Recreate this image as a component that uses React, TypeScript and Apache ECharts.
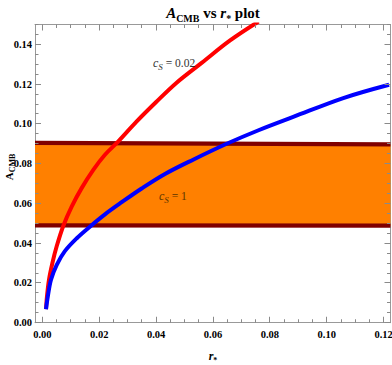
import { useEffect, useRef } from "react";
import * as echarts from "echarts";

const X_MIN = -0.0026;
const X_MAX = 0.1224;
const Y_MIN = 0;
const Y_MAX = 0.15;

const xMajor = [0, 0.02, 0.04, 0.06, 0.08, 0.1, 0.12];
const yMajor = [0, 0.02, 0.04, 0.06, 0.08, 0.1, 0.12, 0.14];
const xTickVals: number[] = [];
for (let k = 0; k <= 24; k++) xTickVals.push(+(k * 0.005).toFixed(3));
const yTickVals: number[] = [];
for (let k = 0; k <= 30; k++) yTickVals.push(+(k * 0.005).toFixed(3));

const redX = [0.00127, 0.0016, 0.0023, 0.0035, 0.005, 0.0074, 0.0103, 0.0138, 0.0179, 0.022, 0.0267, 0.033, 0.04, 0.047, 0.056, 0.066, 0.076];
const redY = [0.0068, 0.0131, 0.0215, 0.0299, 0.0383, 0.0489, 0.0584, 0.0677, 0.0769, 0.0845, 0.0912, 0.101, 0.111, 0.1205, 0.1307, 0.142, 0.1515];

const blueX = [0.00127, 0.0019, 0.003, 0.005, 0.0079, 0.0121, 0.0167, 0.022, 0.0279, 0.0349, 0.0431, 0.053, 0.0648, 0.076, 0.0882, 0.1058, 0.1219];
const blueY = [0.0068, 0.0131, 0.0215, 0.029, 0.036, 0.0425, 0.0483, 0.0545, 0.0606, 0.0675, 0.0748, 0.082, 0.09, 0.0968, 0.1035, 0.113, 0.1197];

const bandX = [X_MIN, X_MAX];
const bandLow = [0.049, 0.0488];
const bandHigh = [0.0905, 0.0897];

const FONT = "Liberation Serif";
const FRAME = "#999999";
const TICK = "#8a8a8a";

function zip(xs: number[], ys: number[]) {
  return xs.map((x, i) => [x, ys[i]]);
}

function isMajor(v: number) {
  return Math.abs(v / 0.02 - Math.round(v / 0.02)) < 1e-6;
}

export default function App() {
  const ref = useRef<HTMLDivElement>(null);
  useEffect(() => {
    document.body.style.margin = "0";
    const chart = echarts.init(ref.current!, null, { renderer: "svg" });
    const labelStyle = { fontFamily: FONT, fontWeight: "bold", fontSize: 10.5, color: "#000" };
    const tickLen = (v: number) => (isMajor(v) ? 6 : 3.5);
    const snap = (p: number) => Math.round(p - 0.5) + 0.5;
    const option: any = {
      animation: false,
      backgroundColor: "#fff",
      grid: { left: 35, right: 1.5, top: 24.5, bottom: 42.3, containLabel: false, outerBoundsMode: "none" },
      xAxis: [
        {
          type: "value", position: "bottom", min: X_MIN, max: X_MAX,
          splitLine: { show: false },
          axisLine: { show: true, onZero: false, lineStyle: { color: FRAME, width: 1 } },
          axisTick: { show: false },
          axisLabel: { ...labelStyle, customValues: xMajor, formatter: (v: number) => v.toFixed(2), margin: 6 },
        },
        {
          type: "value", position: "top", min: X_MIN, max: X_MAX,
          splitLine: { show: false },
          axisLine: { show: true, onZero: false, lineStyle: { color: FRAME, width: 1 } },
          axisTick: { show: false },
          axisLabel: { show: false },
        },
      ],
      yAxis: [
        {
          type: "value", position: "left", min: Y_MIN, max: Y_MAX,
          splitLine: { show: false },
          axisLine: { show: true, onZero: false, lineStyle: { color: FRAME, width: 1 } },
          axisTick: { show: false },
          axisLabel: { ...labelStyle, customValues: yMajor, formatter: (v: number) => v.toFixed(2), margin: 3 },
        },
        {
          type: "value", position: "right", min: Y_MIN, max: Y_MAX,
          splitLine: { show: false },
          axisLine: { show: true, onZero: false, lineStyle: { color: FRAME, width: 1 } },
          axisTick: { show: false },
          axisLabel: { show: false },
        },
      ],
      series: [
        {
          type: "custom", z: 1, data: [0], clip: true,
          renderItem: (_p: any, api: any) => {
            const pts = [
              api.coord([bandX[0], bandLow[0]]),
              api.coord([bandX[1], bandLow[1]]),
              api.coord([bandX[1], bandHigh[1]]),
              api.coord([bandX[0], bandHigh[0]]),
            ];
            return { type: "polygon", shape: { points: pts }, style: { fill: "#FF8000" } };
          },
        },
        { type: "line", z: 2, data: zip(bandX, bandLow), symbol: "none", lineStyle: { color: "#800000", width: 4.3 } },
        { type: "line", z: 2, data: zip(bandX, bandHigh), symbol: "none", lineStyle: { color: "#800000", width: 4.3 } },
        { type: "line", z: 3, data: zip(redX, redY), symbol: "none", smooth: 0.35, clip: true, lineStyle: { color: "#FF0000", width: 4 } },
        { type: "line", z: 3, data: zip(blueX, blueY), symbol: "none", smooth: 0.35, clip: true, lineStyle: { color: "#0000FF", width: 4 } },
        {
          type: "custom", z: 6, clip: false, data: [0],
          renderItem: (_p: any, api: any) => {
            const children: any[] = [];
            xTickVals.forEach((v) => {
              const L = tickLen(v);
              const b = api.coord([v, Y_MIN]);
              const t = api.coord([v, Y_MAX]);
              const x = snap(b[0]);
              children.push({ type: "rect", shape: { x: x - 0.5, y: b[1] - L, width: 1, height: L }, style: { fill: TICK } });
              children.push({ type: "rect", shape: { x: x - 0.5, y: t[1], width: 1, height: L }, style: { fill: TICK } });
            });
            yTickVals.forEach((v) => {
              const L = tickLen(v);
              const l = api.coord([X_MIN, v]);
              const r = api.coord([X_MAX, v]);
              const y = snap(l[1]);
              children.push({ type: "rect", shape: { x: l[0], y: y - 0.5, width: L, height: 1 }, style: { fill: TICK } });
              children.push({ type: "rect", shape: { x: r[0] - L, y: y - 0.5, width: L, height: 1 }, style: { fill: TICK } });
            });
            return { type: "group", children };
          },
        },
      ],
      graphic: [
        {
          type: "text", x: 213, y: 13,
          style: {
            text: "{a|A}{s|CMB}{n| vs }{a|r}{s|*}{n| plot}", align: "center", verticalAlign: "middle",
            rich: {
              a: { fontFamily: FONT, fontSize: 15, fontWeight: "bold", fontStyle: "italic", lineHeight: 20, verticalAlign: "middle", fill: "#000" },
              n: { fontFamily: FONT, fontSize: 15, fontWeight: "bold", lineHeight: 20, verticalAlign: "middle", fill: "#000" },
              s: { fontFamily: FONT, fontSize: 10, fontWeight: "bold", lineHeight: 10, verticalAlign: "bottom", fill: "#000" },
            },
          },
        },
        {
          type: "text", x: 9, y: 167, rotation: Math.PI / 2,
          style: {
            text: "{a|A}{s|CMB}", align: "center", verticalAlign: "middle",
            rich: {
              a: { fontFamily: FONT, fontSize: 11, fontWeight: "bold", lineHeight: 14, verticalAlign: "middle", fill: "#000" },
              s: { fontFamily: FONT, fontSize: 8, fontWeight: "bold", lineHeight: 8, verticalAlign: "bottom", fill: "#000" },
            },
          },
        },
        {
          type: "text", x: 213, y: 356,
          style: {
            text: "{a|r}{s|*}", align: "center", verticalAlign: "middle",
            rich: {
              a: { fontFamily: FONT, fontSize: 12, fontWeight: "bold", fontStyle: "italic", lineHeight: 16, verticalAlign: "middle", fill: "#000" },
              s: { fontFamily: FONT, fontSize: 8, fontWeight: "bold", lineHeight: 8, verticalAlign: "bottom", fill: "#000" },
            },
          },
        },
        {
          type: "text", x: 153, y: 63, z: 10,
          style: {
            text: "{c|c}{s|S}{n| = 0.02}", align: "left", verticalAlign: "middle",
            rich: {
              c: { fontFamily: FONT, fontSize: 12, fontStyle: "italic", lineHeight: 16, verticalAlign: "middle", fill: "#333" },
              n: { fontFamily: FONT, fontSize: 11.5, lineHeight: 16, verticalAlign: "middle", fill: "#333" },
              s: { fontFamily: FONT, fontSize: 9, fontStyle: "italic", lineHeight: 9, verticalAlign: "bottom", fill: "#333" },
            },
          },
        },
        {
          type: "text", x: 159, y: 196, z: 10,
          style: {
            text: "{c|c}{s|S}{n| = 1}", align: "left", verticalAlign: "middle",
            rich: {
              c: { fontFamily: FONT, fontSize: 12, fontStyle: "italic", lineHeight: 16, verticalAlign: "middle", fill: "#5a3500" },
              n: { fontFamily: FONT, fontSize: 11.5, lineHeight: 16, verticalAlign: "middle", fill: "#5a3500" },
              s: { fontFamily: FONT, fontSize: 9, fontStyle: "italic", lineHeight: 9, verticalAlign: "bottom", fill: "#5a3500" },
            },
          },
        },
      ],
    };
    chart.setOption(option);
    return () => chart.dispose();
  }, []);
  return <div ref={ref} style={{ width: 392, height: 365 }} />;
}
